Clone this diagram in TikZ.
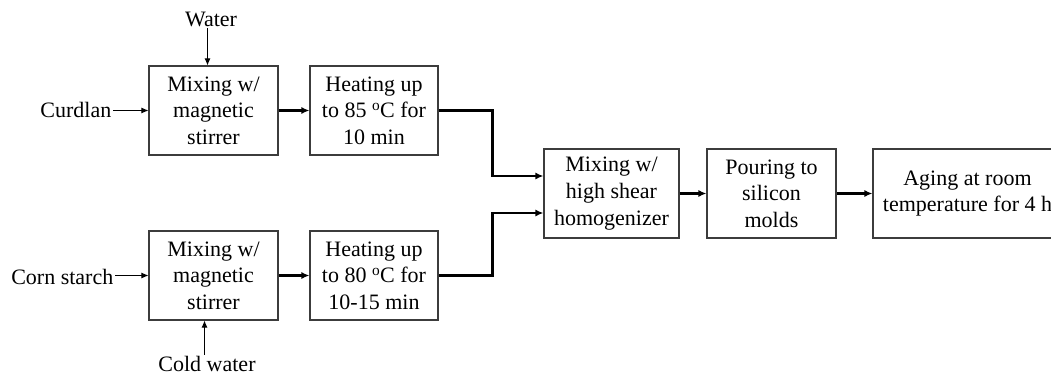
\documentclass[tikz,border=0pt]{standalone}
\usepackage{fontspec}
\setmainfont{Liberation Serif}
\usetikzlibrary{arrows.meta,calc}
\definecolor{boxgray}{HTML}{3C3C3C}
\begin{document}
\begin{tikzpicture}[x=1pt,y=-1pt,
  txt/.style={font=\fontsize{22}{26.6}\selectfont},
  box/.style={txt, draw=boxgray, line width=1.1pt, align=center, inner sep=0pt,
              minimum height=89pt},
  lbl/.style={txt, inner sep=1.5pt},
  feed/.style={line width=0.9pt, -{Latex[length=7pt,width=6pt]}},
  flow/.style={line width=2.2pt, -{Latex[length=8pt,width=7pt]}}]

\useasboundingbox (0,0) rectangle (1051,377);
\clip (0,0) rectangle (1051,377);

% process steps
\node[box, minimum width=129pt] (mix1) at (213.5,110.5) {Mixing w/\\magnetic\\stirrer};
\node[box, minimum width=128pt] (heat1) at (374,110.5) {Heating up\\to 85 \textsuperscript{o}C for\\10 min};
\node[box, minimum width=129pt] (mix2) at (213.5,275.5) {Mixing w/\\magnetic\\stirrer};
\node[box, minimum width=128pt] (heat2) at (374,275.5) {Heating up\\to 80 \textsuperscript{o}C for\\10-15 min};
\node[box, minimum width=135pt] (homog) at (611.5,193.5) {Mixing w/\\high shear\\homogenizer};
\node[box, minimum width=129pt] (pour) at (771.5,193.5) {Pouring to\\silicon\\molds};
\node[box, minimum width=189pt] (aging) at (967.5,193.5) {Aging at room\\temperature for 4 h};

% ingredients
\node[lbl, anchor=east] (curdlan) at (113,109.5) {Curdlan};
\node[lbl, anchor=east] (corn) at (115,276.5) {Corn starch};
\node[lbl] (water) at (211,19) {Water};
\node[lbl] (cold) at (207,364) {Cold water};

% feed arrows
\draw[feed] (curdlan.east |- mix1.west) -- (mix1.west);
\draw[feed] (corn.east |- mix2.west) -- (mix2.west);
\coordinate (win) at ([xshift=-6pt]mix1.north);
\draw[feed] (water.south -| win) -- (win);
\coordinate (cin) at ([xshift=-9pt]mix2.south);
\draw[feed] (cold.north -| cin) -- (cin);

% main flow
\draw[flow] (mix1.east) -- (heat1.west);
\draw[flow] (mix2.east) -- (heat2.west);
\draw[flow] (heat1.east) -- ++(54pt,0) |- ([yshift=17.5pt]homog.west);
\draw[flow] (heat2.east) -- ++(54pt,0) |- ([yshift=-19.5pt]homog.west);
\draw[flow] (homog.east) -- (pour.west);
\draw[flow] (pour.east) -- (aging.west);
\end{tikzpicture}
\end{document}
